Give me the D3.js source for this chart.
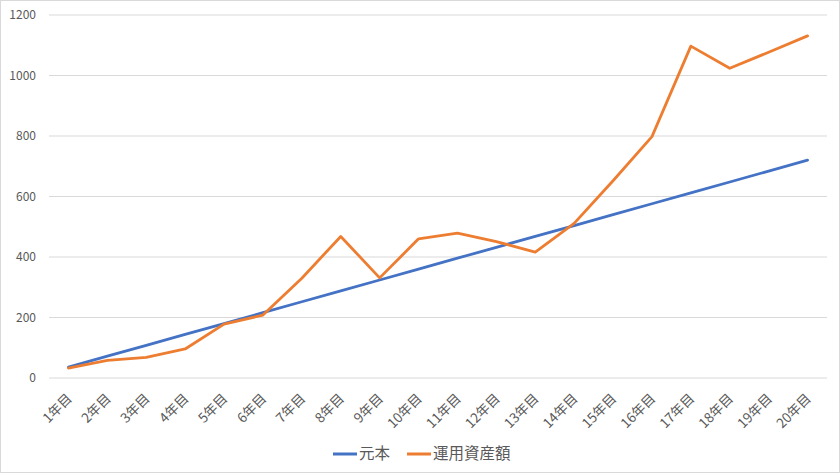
<!DOCTYPE html>
<html>
<head>
<meta charset="utf-8">
<script src="https://cdn.jsdelivr.net/npm/d3@7"></script>
<style>
  body { margin: 0; background: #fff; }
  text { font-family: "Noto Sans CJK JP", "Noto Sans", sans-serif; fill: #595959; }
</style>
</head>
<body>
<svg id="chart" width="840" height="474"></svg>
<script>
const years = ['1年目','2年目','3年目','4年目','5年目','6年目','7年目','8年目','9年目','10年目',
  '11年目','12年目','13年目','14年目','15年目','16年目','17年目','18年目','19年目','20年目']
const principal = [36, 72, 108, 144, 180, 216, 252, 288, 324, 360,
  396, 432, 468, 504, 540, 576, 612, 648, 684, 720]
const assets = [33, 58, 68, 96, 178, 208, 330, 468, 331, 460,
  479, 451, 416, 511, 652, 798, 1097, 1024, 1077, 1131]
const yTicks = [0, 200, 400, 600, 800, 1000, 1200]

const seriesList = [
  { name: '元本', values: principal, color: '#4472C4' },
  { name: '運用資産額', values: assets, color: '#ED7D31' }
]

const width = 840, height = 474
const margin = { left: 49, top: 15, right: 13, bottom: 96 }

const svg = d3.select('#chart')

// chart area border
svg.append('rect')
  .attr('x', 0.5).attr('y', 0.5)
  .attr('width', width - 1).attr('height', height - 2)
  .attr('fill', '#fff').attr('stroke', '#d9d9d9')

const x = d3.scaleBand().domain(years).range([margin.left, width - margin.right])
const y = d3.scaleLinear().domain([0, 1200]).range([height - margin.bottom, margin.top])
const cx = d => x(d) + x.bandwidth() / 2

// gridlines
svg.append('g').selectAll('line').data(yTicks).join('line')
  .attr('x1', margin.left).attr('x2', width - margin.right)
  .attr('y1', d => y(d)).attr('y2', d => y(d))
  .attr('stroke', '#d9d9d9').attr('stroke-width', 1)

// y labels
svg.append('g').selectAll('text').data(yTicks).join('text')
  .attr('x', 36).attr('y', d => y(d))
  .attr('dy', '0.35em')
  .attr('text-anchor', 'end')
  .attr('font-size', 12)
  .text(d => d)

// x labels
svg.append('g').selectAll('text').data(years).join('text')
  .attr('transform', d => `translate(${cx(d) + 1},${y(0) + 18}) rotate(-45)`)
  .attr('text-anchor', 'end')
  .attr('dy', '0.35em')
  .attr('font-size', 13.5)
  .text(d => d)

// lines
const line = d3.line().x((d, i) => cx(years[i])).y(d => y(d))

svg.append('g').selectAll('path').data(seriesList).join('path')
  .attr('d', s => line(s.values))
  .attr('fill', 'none')
  .attr('stroke', s => s.color)
  .attr('stroke-width', 2.8)
  .attr('stroke-linejoin', 'round')
  .attr('stroke-linecap', 'round')

// legend
const legend = svg.append('g').attr('transform', 'translate(333,454)')
let offset = 0
seriesList.forEach(s => {
  const g = legend.append('g').attr('transform', `translate(${offset},0)`)
  g.append('line')
    .attr('x1', 0).attr('x2', 24)
    .attr('stroke', s.color).attr('stroke-width', 3)
  const t = g.append('text')
    .attr('x', 26).attr('dy', '0.35em')
    .attr('font-size', 15.5)
    .text(s.name)
  offset += 26 + t.node().getComputedTextLength() + 17
})
</script>
</body>
</html>
